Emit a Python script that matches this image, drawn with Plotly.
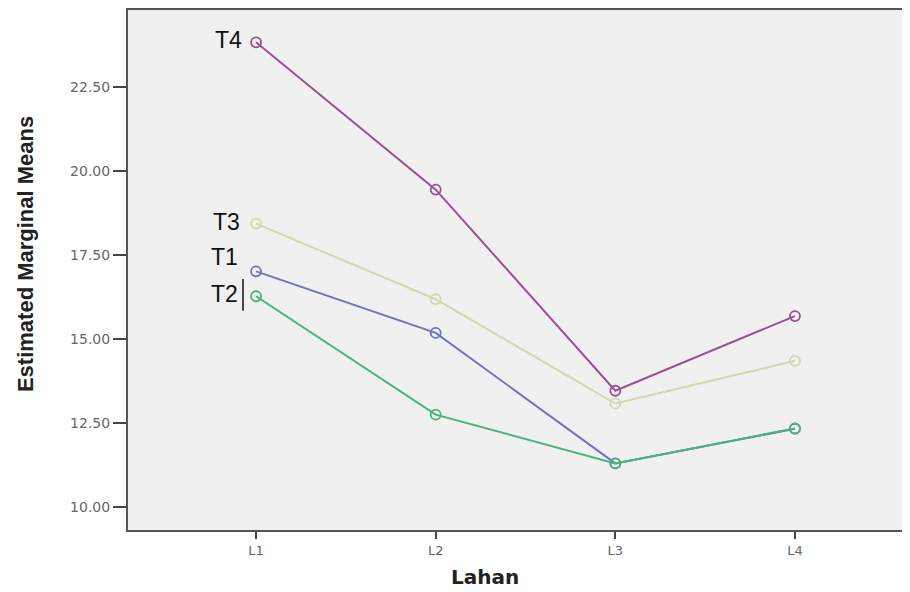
import plotly.graph_objects as go

categories = ["L1", "L2", "L3", "L4"]
series_names = ["T3", "T4", "T1", "T2"]
t1 = [17.01, 15.18, 11.30, 12.33]
t2 = [16.27, 12.75, 11.30, 12.34]
t3 = [18.43, 16.18, 13.08, 14.35]
t4 = [23.82, 19.44, 13.46, 15.68]
y_ticks = [10.0, 12.5, 15.0, 17.5, 20.0, 22.5]
y_tick_labels = ["10.00", "12.50", "15.00", "17.50", "20.00", "22.50"]

colors = {"T1": "#7272c0", "T2": "#46b47c", "T3": "#d4d6b2", "T4": "#9b4f97"}
values = {"T1": t1, "T2": t2, "T3": t3, "T4": t4}

fig = go.Figure()
for name in series_names:
    fig.add_trace(go.Scatter(
        x=categories, y=values[name], mode="lines+markers", name=name,
        line=dict(color=colors[name], width=2),
        marker=dict(symbol="circle-open", size=10, color=colors[name],
                    line=dict(width=1.8, color=colors[name])),
        showlegend=False,
    ))

# page has 8px body margin; figure coords = page coords - 8
OFF = 8
W, H = 910, 584
L, R, T, B = 120, 0, 0, 62
ph = H - T - B
pw = W - L - R

def py(ypage):
    return (H - B - (ypage - OFF)) / ph

def px(xpage):
    return ((xpage - OFF) - L) / pw

label_font = dict(family="Liberation Sans, Arial, sans-serif", size=23, color="#111")
for text, yc, xr in [("T4", 38, 244), ("T3", 221, 242), ("T1", 256, 240), ("T2", 293, 240)]:
    fig.add_annotation(text=text, xref="paper", yref="paper", x=px(xr), y=py(yc),
                       xanchor="right", yanchor="middle", showarrow=False, font=label_font)

# cursor bar after T2
fig.add_shape(type="line", xref="paper", yref="paper", x0=px(243), x1=px(243),
              y0=py(310), y1=py(278), line=dict(color="#111", width=1.5))

fig.add_annotation(text="<b>Lahan</b>", xref="paper", yref="paper", x=px(485), y=py(577),
                   xanchor="center", yanchor="middle", showarrow=False,
                   font=dict(family="DejaVu Sans, Verdana, sans-serif", size=20, color="#222"))
fig.add_annotation(text="<b>Estimated Marginal Means</b>", xref="paper", yref="paper",
                   x=px(25), y=py(253), xanchor="center", yanchor="middle", textangle=-90,
                   showarrow=False,
                   font=dict(family="Liberation Sans Narrow, Arial Narrow, sans-serif", size=22, color="#222"))

fig.update_layout(
    width=W, height=H,
    margin=dict(l=L, r=R, t=T, b=B),
    paper_bgcolor="white", plot_bgcolor="#f0f0f0",
    xaxis=dict(type="category", range=[-0.713, 3.685], showgrid=False, zeroline=False,
               showline=True, linecolor="#555", linewidth=2, mirror=True,
               ticks="outside", ticklen=7, tickwidth=2, tickcolor="#444",
               tickfont=dict(family="DejaVu Sans, Verdana, sans-serif", size=13, color="#666")),
    yaxis=dict(range=[9.32, 24.78], showgrid=False, zeroline=False,
               showline=True, linecolor="#555", linewidth=2,
               tickvals=y_ticks, ticktext=y_tick_labels,
               ticks="outside", ticklen=13, tickwidth=2, tickcolor="#444",
               tickfont=dict(family="DejaVu Sans, Verdana, sans-serif", size=14, color="#666")),
)

fig.write_html("out.html")
